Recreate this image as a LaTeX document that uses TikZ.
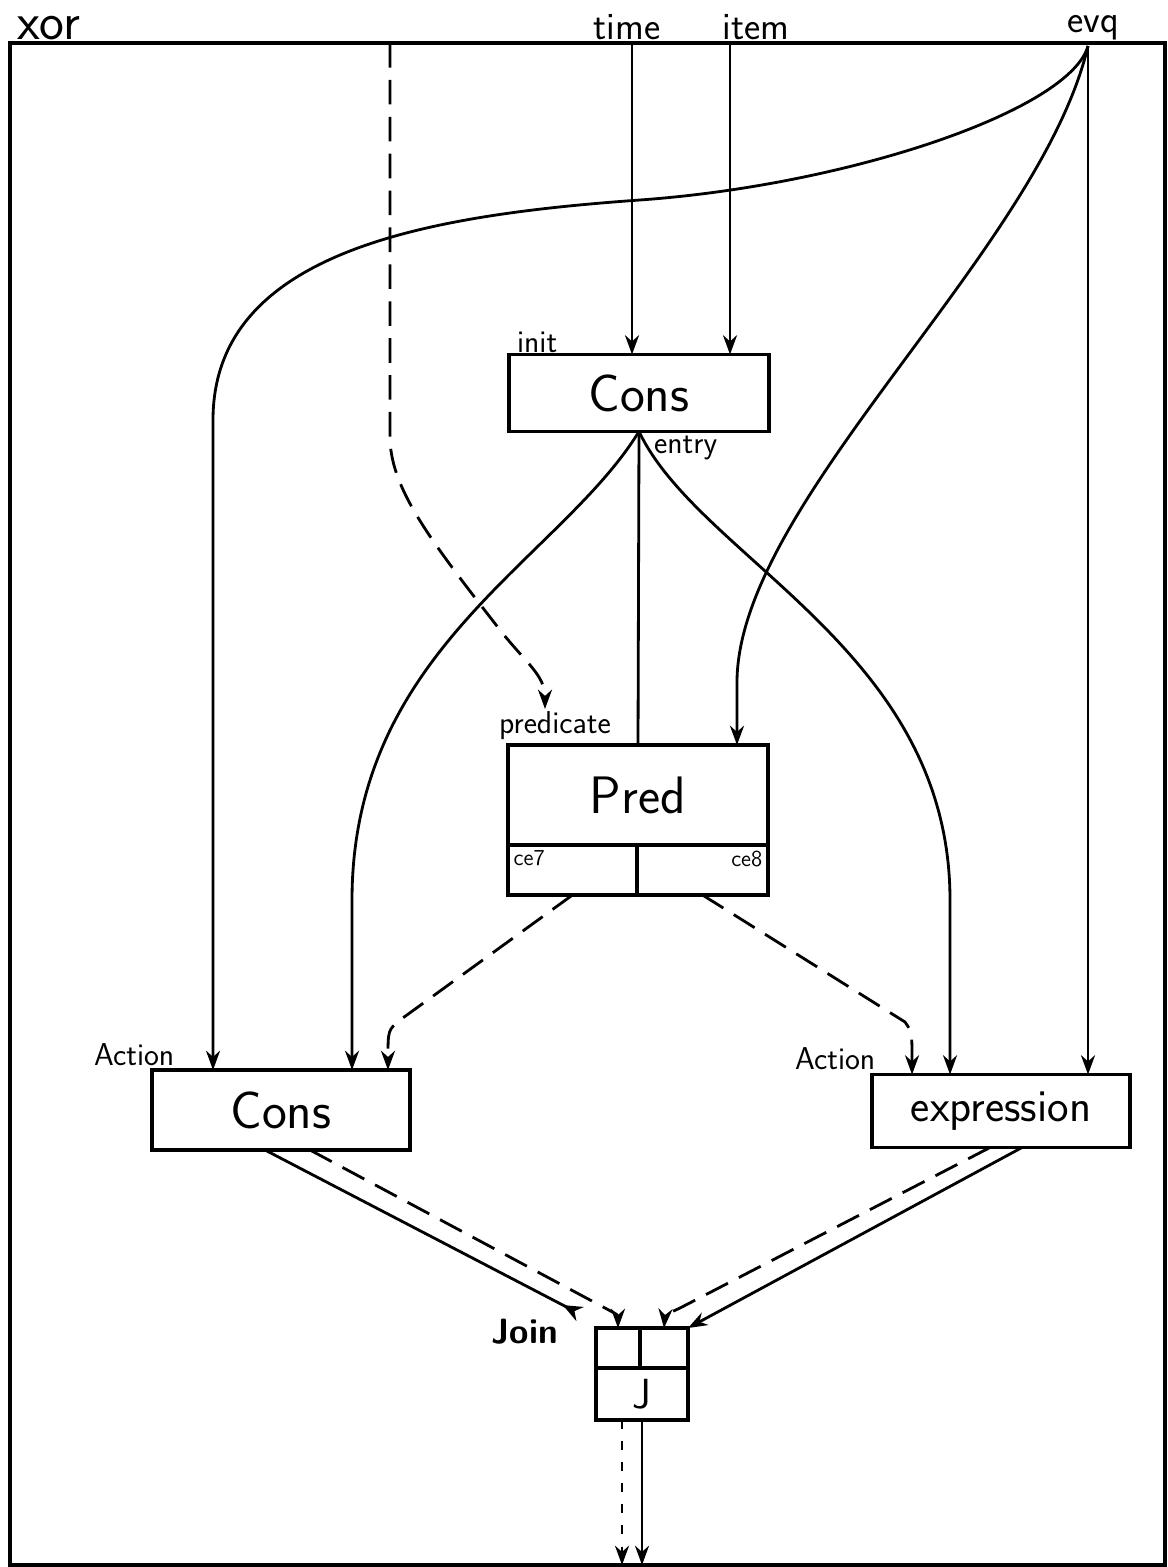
\documentclass[tikz,border=0pt]{standalone}
\usetikzlibrary{arrows.meta,positioning,calc}
\begin{document}
\begin{tikzpicture}[x=0.02cm,y=-0.02cm,
    every node/.style={font=\sffamily},
    box/.style={draw,line width=1.8pt,inner sep=0pt,outer sep=0pt},
    big/.style={font=\sffamily\fontsize{30}{36}\selectfont},
    lbl/.style={inner sep=1pt,font=\sffamily\fontsize{18}{20}\selectfont},
    top/.style={inner sep=1pt,anchor=south,font=\sffamily\fontsize{22}{24}\selectfont},
    wire/.style={line width=1.6pt,-{Stealth[length=11pt,width=8pt]}},
    dsh/.style={wire,dash pattern=on 14pt off 7pt}]
    \useasboundingbox (0,0) rectangle (1168,1567);
    \draw[line width=2pt] (10,43) rectangle (1165,1565);
    % inputs on the frame
    \node[inner sep=1pt,anchor=base west,font=\sffamily\fontsize{30}{32}\selectfont] (xor) at (15,40) {xor};
    \node[top] (time) at (627,42) {time};
    \node[top] (item) at (756,42) {item};
    \node[top] (evq) at (1093,42) {evq};
    \coordinate (xin) at (390,43);
    \coordinate (tin) at (632,43);
    \coordinate (iin) at (730,43);
    \coordinate (ein) at (1088,46);
    % boxes
    \node[box,big,minimum width=5.2cm,minimum height=1.54cm] (init) at (639,393) {Cons};
    \node[box,big,minimum width=5.2cm,minimum height=2cm] (pred) at (638,795) {Pred};
    \node[box,minimum width=2.58cm,minimum height=1cm,anchor=north west] (ce7) at (pred.south west) {};
    \node[box,minimum width=2.62cm,minimum height=1cm,anchor=north east] (ce8) at (pred.south east) {};
    \node[box,big,minimum width=5.16cm,minimum height=1.6cm] (act) at (281,1110) {Cons};
    \node[box,minimum width=5.16cm,minimum height=1.46cm,font=\sffamily\fontsize{26}{30}\selectfont] (expr) at (1001,1111) {expression};
    \node[box,minimum width=1.84cm,minimum height=1.04cm,font=\sffamily\fontsize{24}{26}\selectfont] (jbody) at (642,1394) {J};
    \node[box,minimum width=0.88cm,minimum height=0.8cm,anchor=south west] (jl) at (jbody.north west) {};
    \node[box,minimum width=0.96cm,minimum height=0.8cm,anchor=south east] (jr) at (jbody.north east) {};
    \coordinate (jout) at (642,1565);
    \coordinate (jdot) at (622,1565);
    \coordinate (jtip) at (580,1314);
    % labels
    \node[lbl,anchor=south west] (initl) at (515,355) {init};
    \node[lbl,anchor=north west] (entry) at (652,434) {entry};
    \node[lbl,anchor=base west] (predl) at (497,733) {predicate};
    \node[inner sep=3pt,anchor=north west,font=\sffamily\fontsize{13}{14}\selectfont] at (ce7.north west) {ce7};
    \node[inner sep=3pt,anchor=north east,font=\sffamily\fontsize{13}{14}\selectfont] at (ce8.north east) {ce8};
    \node[lbl,anchor=south west] (actl) at (92,1068) {Action};
    \node[lbl,anchor=south west] (actr) at (793,1072) {Action};
    \node[lbl,anchor=east,font=\sffamily\bfseries\fontsize{20}{22}\selectfont] (joinl) at (560,1332) {Join};
    % connectors
    \draw[wire] (tin) -- (tin |- init.north);
    \draw[wire] (iin) -- (iin |- init.north);
    \draw[wire] (ein) -- (ein |- expr.north);
    \draw[wire] (ein) .. controls (1070,110) and (850,185) .. (640,200)
        .. controls (430,215) and (213,250) .. (213,420) -- ($(act.north west)+(61,0)$);
    \draw[wire] (ein) .. controls (1040,250) and (740,500) .. (737,680) -- ($(pred.north east)+(-31,0)$);
    \draw[line width=1.6pt] (init.south) -- (pred.north);
    \draw[wire] (init.south) .. controls (560,560) and (352,650) .. (352,900) -- ($(act.north west)+(200,0)$);
    \draw[wire] (init.south) .. controls (700,560) and (950,650) .. (950,900) -- ($(expr.north west)+(78,0)$);
    \draw[dsh] (xin) -- (390,440) .. controls (392,490) and (430,540) .. (500,630)
        .. controls (525,662) and (545,675) .. ($(predl.north west)+(48,0)$);
    \draw[dsh] (ce7.south) -- (400,1020) .. controls (388,1030) .. ($(act.north east)+(-22,0)$);
    \draw[dsh] (ce8.south) -- (905,1022) .. controls (912,1032) .. ($(expr.north west)+(40,0)$);
    \draw[line width=1.6pt,-{Stealth[reversed,length=11pt,width=9pt]}] ($(act.south)+(-16,0)$) -- (jtip);
    \draw[dsh] ($(act.south)+(29,0)$) -- (605,1308) .. controls (618,1315) .. (jl.north);
    \draw[dsh] ($(expr.south)+(-11,0)$) -- (680,1308) .. controls (665,1315) .. (jr.north);
    \draw[wire] ($(expr.south)+(21,0)$) -- (jr.north east);
    \draw[wire] (jbody.south) -- (jout);
    \draw[wire,dash pattern=on 5pt off 7pt] ($(jbody.south)+(-20,0)$) -- (jdot);
\end{tikzpicture}
\end{document}
